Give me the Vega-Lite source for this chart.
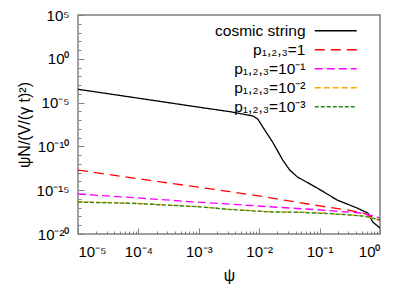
{
  "$schema": "https://vega.github.io/schema/vega-lite/v6.json",
  "width": 302,
  "height": 219,
  "autosize": "none",
  "padding": {"left": 78, "top": 15, "right": 29, "bottom": 52},
  "background": "white",
  "config": {
    "font": "Liberation Sans",
    "view": {"stroke": "#808080", "strokeWidth": 1.5},
    "axis": {"grid": false, "domain": false, "tickColor": "#808080", "labelColor": "black", "titleColor": "black", "labelFontSize": 15, "titleFontSize": 16, "titleFontWeight": "normal"}
  },
  "data": {
    "values": [
      {"series": "cosmic string", "x": 1e-5, "y": 3.3e-4},
      {"series": "cosmic string", "x": 1e-4, "y": 3.2e-5},
      {"series": "cosmic string", "x": 1e-3, "y": 3.0e-6},
      {"series": "cosmic string", "x": 3.3e-3, "y": 9.1e-7},
      {"series": "cosmic string", "x": 7.9e-3, "y": 2.95e-7},
      {"series": "cosmic string", "x": 9.5e-3, "y": 1.3e-7},
      {"series": "cosmic string", "x": 1.15e-2, "y": 1.6e-8},
      {"series": "cosmic string", "x": 1.7e-2, "y": 2.5e-10},
      {"series": "cosmic string", "x": 2.45e-2, "y": 2.8e-12},
      {"series": "cosmic string", "x": 3.2e-2, "y": 2.0e-13},
      {"series": "cosmic string", "x": 4.3e-2, "y": 3.2e-14},
      {"series": "cosmic string", "x": 9.1e-2, "y": 1.8e-15},
      {"series": "cosmic string", "x": 0.195, "y": 7.6e-17},
      {"series": "cosmic string", "x": 0.417, "y": 9.3e-18},
      {"series": "cosmic string", "x": 0.63, "y": 2.5e-18},
      {"series": "cosmic string", "x": 0.76, "y": 2.3e-19},
      {"series": "cosmic string", "x": 1, "y": 4.8e-20},
      {"series": "p₁,₂,₃=1", "x": 1e-5, "y": 2.0e-13},
      {"series": "p₁,₂,₃=1", "x": 1e-4, "y": 2.0e-14},
      {"series": "p₁,₂,₃=1", "x": 1e-3, "y": 2.2e-15},
      {"series": "p₁,₂,₃=1", "x": 3.3e-3, "y": 6.8e-16},
      {"series": "p₁,₂,₃=1", "x": 1e-2, "y": 2.2e-16},
      {"series": "p₁,₂,₃=1", "x": 0.1, "y": 1.6e-17},
      {"series": "p₁,₂,₃=1", "x": 0.316, "y": 5e-18},
      {"series": "p₁,₂,₃=1", "x": 0.52, "y": 2.5e-18},
      {"series": "p₁,₂,₃=1", "x": 0.74, "y": 8.7e-19},
      {"series": "p₁,₂,₃=1", "x": 1, "y": 3.2e-19},
      {"series": "p₁,₂,₃=10⁻¹", "x": 1e-5, "y": 3.7e-16},
      {"series": "p₁,₂,₃=10⁻¹", "x": 1e-4, "y": 1.3e-16},
      {"series": "p₁,₂,₃=10⁻¹", "x": 7.9e-4, "y": 4.7e-17},
      {"series": "p₁,₂,₃=10⁻¹", "x": 3.3e-3, "y": 2.5e-17},
      {"series": "p₁,₂,₃=10⁻¹", "x": 7.9e-3, "y": 1.7e-17},
      {"series": "p₁,₂,₃=10⁻¹", "x": 9.1e-2, "y": 5.9e-18},
      {"series": "p₁,₂,₃=10⁻¹", "x": 0.47, "y": 2.5e-18},
      {"series": "p₁,₂,₃=10⁻¹", "x": 0.79, "y": 1.1e-18},
      {"series": "p₁,₂,₃=10⁻¹", "x": 1, "y": 6.8e-19},
      {"series": "p₁,₂,₃=10⁻²", "x": 1e-5, "y": 4.9e-17},
      {"series": "p₁,₂,₃=10⁻²", "x": 9.5e-5, "y": 3.2e-17},
      {"series": "p₁,₂,₃=10⁻²", "x": 3.3e-4, "y": 2.0e-17},
      {"series": "p₁,₂,₃=10⁻²", "x": 1.05e-3, "y": 1.3e-17},
      {"series": "p₁,₂,₃=10⁻²", "x": 3.3e-3, "y": 6.6e-18},
      {"series": "p₁,₂,₃=10⁻²", "x": 1.5e-2, "y": 3.5e-18},
      {"series": "p₁,₂,₃=10⁻²", "x": 4.8e-2, "y": 3.0e-18},
      {"series": "p₁,₂,₃=10⁻²", "x": 0.148, "y": 2.3e-18},
      {"series": "p₁,₂,₃=10⁻²", "x": 0.316, "y": 1.5e-18},
      {"series": "p₁,₂,₃=10⁻²", "x": 0.56, "y": 1.1e-18},
      {"series": "p₁,₂,₃=10⁻²", "x": 1, "y": 3.9e-19},
      {"series": "p₁,₂,₃=10⁻³", "x": 1e-5, "y": 4.4e-17},
      {"series": "p₁,₂,₃=10⁻³", "x": 9.5e-5, "y": 3.0e-17},
      {"series": "p₁,₂,₃=10⁻³", "x": 3.3e-4, "y": 1.9e-17},
      {"series": "p₁,₂,₃=10⁻³", "x": 1.05e-3, "y": 1.25e-17},
      {"series": "p₁,₂,₃=10⁻³", "x": 3.3e-3, "y": 6.3e-18},
      {"series": "p₁,₂,₃=10⁻³", "x": 1.5e-2, "y": 3.3e-18},
      {"series": "p₁,₂,₃=10⁻³", "x": 4.8e-2, "y": 3.0e-18},
      {"series": "p₁,₂,₃=10⁻³", "x": 0.148, "y": 2.1e-18},
      {"series": "p₁,₂,₃=10⁻³", "x": 0.316, "y": 1.5e-18},
      {"series": "p₁,₂,₃=10⁻³", "x": 0.56, "y": 1.05e-18},
      {"series": "p₁,₂,₃=10⁻³", "x": 1, "y": 4.2e-19}
    ]
  },
  "mark": {"type": "line", "strokeWidth": 1.3, "clip": true},
  "encoding": {
    "x": {
      "field": "x", "type": "quantitative",
      "scale": {"type": "log", "domain": [1e-5, 1], "nice": false},
      "axis": {
        "title": "ψ", "titlePadding": 8,
        "values": [1e-5,2e-5,3e-5,4e-5,5e-5,6e-5,7e-5,8e-5,9e-5,1e-4,2e-4,3e-4,4e-4,5e-4,6e-4,7e-4,8e-4,9e-4,1e-3,2e-3,3e-3,4e-3,5e-3,6e-3,7e-3,8e-3,9e-3,1e-2,2e-2,3e-2,4e-2,5e-2,6e-2,7e-2,8e-2,9e-2,0.1,0.2,0.3,0.4,0.5,0.6,0.7,0.8,0.9,1],
        "tickSize": {"condition": {"test": "abs(log(datum.value)/LN10 - round(log(datum.value)/LN10)) < 0.01", "value": -6}, "value": -3},
        "labelPadding": 16,
        "labelExpr": "abs(log(datum.value)/LN10 - round(log(datum.value)/LN10)) > 0.01 ? '' : ['10⁻⁵','10⁻⁴','10⁻³','10⁻²','10⁻¹','10⁰'][round(log(datum.value)/LN10)+5]"
      }
    },
    "y": {
      "field": "y", "type": "quantitative",
      "scale": {"type": "log", "domain": [1e-20, 1e5], "nice": false},
      "axis": {
        "title": "ψN/(V/(γ t)²)", "titlePadding": 4,
        "values": [1e-20,1e-19,1e-18,1e-17,1e-16,1e-15,1e-14,1e-13,1e-12,1e-11,1e-10,1e-9,1e-8,1e-7,1e-6,1e-5,1e-4,1e-3,1e-2,1e-1,1,10,100,1000,10000,100000],
        "tickSize": {"condition": {"test": "abs(round(log(datum.value)/LN10)) % 5 == 0", "value": -6}, "value": -3},
        "labelPadding": 15,
        "labelExpr": "abs(round(log(datum.value)/LN10)) % 5 != 0 ? '' : ['10⁻²⁰','10⁻¹⁵','10⁻¹⁰','10⁻⁵','10⁰','10⁵'][(round(log(datum.value)/LN10)+20)/5]"
      }
    },
    "color": {
      "field": "series", "type": "nominal",
      "scale": {"domain": ["cosmic string", "p₁,₂,₃=1", "p₁,₂,₃=10⁻¹", "p₁,₂,₃=10⁻²", "p₁,₂,₃=10⁻³"], "range": ["#000000", "#ff0000", "#ff00ff", "#ffa500", "#228b22"]},
      "legend": {
        "title": null, "orient": "none", "legendX": 250, "legendY": 8,
        "symbolType": "M-4,0H4", "symbolSize": 110, "symbolStrokeWidth": 1.5,
        "labelFontSize": 15.5, "labelAlign": "right", "labelOffset": -38,
        "rowPadding": 2
      }
    },
    "strokeDash": {
      "field": "series", "type": "nominal",
      "scale": {"domain": ["cosmic string", "p₁,₂,₃=1", "p₁,₂,₃=10⁻¹", "p₁,₂,₃=10⁻²", "p₁,₂,₃=10⁻³"], "range": [[1, 0], [10, 6], [8, 4], [6, 3], [4, 2]]},
      "legend": null
    }
  }
}
